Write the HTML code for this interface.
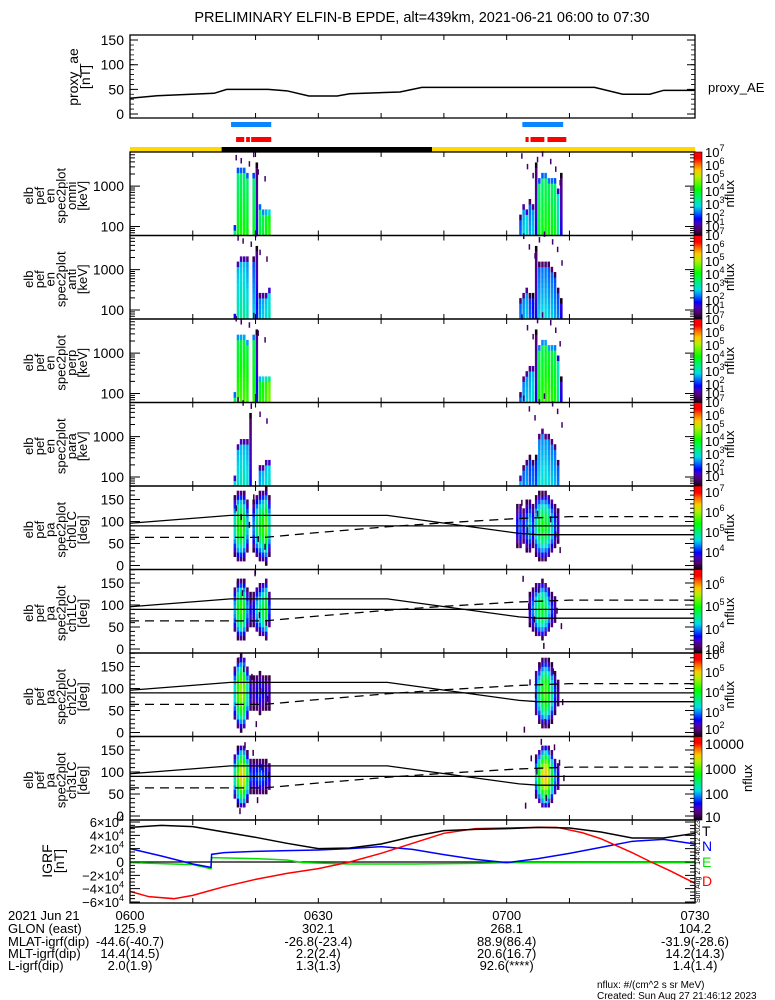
<!DOCTYPE html>
<html><head><meta charset="utf-8"><title>ELFIN-B EPDE</title>
<style>
html,body{margin:0;padding:0;background:#fff;}
svg{display:block;font-family:"Liberation Sans",sans-serif;}
</style></head>
<body>
<svg id="chart" xmlns="http://www.w3.org/2000/svg" width="775" height="1000" viewBox="0 0 775 1000">
<defs>
<linearGradient id="cmap" x1="0" y1="1" x2="0" y2="0">
<stop offset="0" stop-color="rgb(20,0,20)"/><stop offset="0.08" stop-color="rgb(80,0,110)"/>
<stop offset="0.15" stop-color="rgb(70,0,200)"/><stop offset="0.2" stop-color="rgb(0,0,255)"/>
<stop offset="0.28" stop-color="rgb(0,120,255)"/><stop offset="0.35" stop-color="rgb(0,220,230)"/>
<stop offset="0.45" stop-color="rgb(0,240,120)"/><stop offset="0.55" stop-color="rgb(0,255,0)"/>
<stop offset="0.7" stop-color="rgb(180,240,0)"/><stop offset="0.78" stop-color="rgb(255,200,0)"/>
<stop offset="0.86" stop-color="rgb(255,100,0)"/><stop offset="0.92" stop-color="rgb(255,0,0)"/>
<stop offset="1" stop-color="rgb(255,0,0)"/>
</linearGradient>
</defs>
<text x="422" y="22" font-size="14.5" text-anchor="middle">PRELIMINARY ELFIN-B EPDE, alt=439km, 2021-06-21 06:00 to 07:30</text>
<text x="708" y="92" font-size="13">proxy_AE</text>
<g font-size="14">
<text x="702" y="836" fill="#000">T</text>
<text x="702" y="851" fill="#0000ff">N</text>
<text x="702" y="867" fill="#00e000">E</text>
<text x="702" y="886" fill="#ff0000">D</text>
</g>
<text transform="translate(700,903) rotate(-90)" font-size="7">Sun Aug 27 14:46:12 2023</text>
<g font-size="13">
<text x="8" y="920">2021 Jun 21</text>
<text x="8" y="933">GLON (east)</text>
<text x="8" y="946">MLAT-igrf(dip)</text>
<text x="8" y="958">MLT-igrf(dip)</text>
<text x="8" y="970">L-igrf(dip)</text>
</g>
<text x="597" y="988" font-size="10">nflux: #/(cm^2 s sr MeV)</text>
<text x="597" y="999" font-size="10">Created: Sun Aug 27 21:46:12 2023</text>
<g id="plot"></g>
</svg>
<script>
// ---------- data ----------
const aeTime = [0,4.3,13.4,15.4,22,25,28.5,33,35,43,46.5,74,78.5,82.8,85,90];
const aeValue = [32,37,42,50,50,47,36.5,36.5,41,44.6,54,54,40,40,48,48];
const aeTicks = [0,50,100,150];

const blueBarStart = [16.1,62.5];
const blueBarEnd = [22.5,69];
const redBarStart = [16.9,18.5,19.3,63.0,63.8,66.5];
const redBarEnd = [18.2,19.1,22.5,63.5,66.0,69.5];
const nightStart = 14.6;
const nightEnd = 48.1;

const energyTicks = [100,1000];
const energyBinCount = 16;

const e1Time = [16.5,17,17.5,18,18.5,19,19.5,20,20.5,21,21.5,22];
const e2Time = [62,62.5,63,63.5,64,64.5,65,65.5,66,66.5,67,67.5,68,68.5];

const omniLow1 = [3.5,4.3,4.4,4.4,4.3,0,4.2,2.0,4.0,4.1,4.3,4.5];
const omniCut1 = [100,2500,2500,2500,1800,0,2000,3000,300,250,250,200];
const omniLow2 = [2.5,3.0,3.2,2.8,3.0,2.0,4.2,4.3,4.4,4.4,4.3,4.2,3.5,2.0];
const omniCut2 = [150,300,200,400,300,3000,1500,1800,1800,1500,1500,1200,800,2000];

const antiLow1 = [3.2,3.4,3.5,3.5,3.3,0,3.0,2.2,2.8,3.0,3.1,3.3];
const antiCut1 = [80,1500,2000,2000,1800,0,1800,3000,200,200,250,300];
const antiLow2 = [2.6,2.8,3.0,2.5,2.2,2.0,3.0,3.1,3.1,3.0,3.0,2.8,2.6,2.0];
const antiCut2 = [150,200,300,200,250,3000,1200,1500,1500,1200,1000,800,300,150];

const perpLow1 = [3.8,4.6,4.7,4.7,4.6,0,4.5,2.2,4.3,4.5,4.7,5.0];
const perpCut1 = [100,2500,2500,2500,2000,0,2500,3000,250,250,250,250];
const perpLow2 = [2.5,2.8,3.0,3.0,3.2,2.0,4.4,4.5,4.6,4.6,4.5,4.4,3.6,2.0];
const perpCut2 = [100,200,300,400,400,3000,1500,1600,1600,1500,1500,1300,700,200];

const paraLow1 = [3.0,3.2,3.3,3.3,3.2,2.0,0,0,2.8,3.0,3.1,3.2];
const paraCut1 = [100,600,800,800,700,3000,0,0,150,180,200,200];
const paraLow2 = [2.8,2.6,2.8,2.5,2.6,2.4,3.1,3.2,3.2,3.1,3.0,2.9,2.6,0];
const paraCut2 = [100,150,200,300,250,300,1000,1200,1000,900,800,600,200,0];

const specklesMin = [16.8,17.6,18.9,19.6,20.3,21.4,62.3,63.2,64.1,64.8,65.6,66.9,67.7,68.4];
const specklesKeV = [5000,4200,3500,6000,2200,1500,5500,3000,1800,4500,6200,4000,2600,1200];

const paTicks = [0,50,100,150];
const pa1Time = [16.5,17,17.5,18,18.5,19,19.5,20,20.5,21,21.5,22];
const pa2Time = [61.5,62,62.5,63,63.5,64,64.5,65,65.5,66,66.5,67,67.5,68];
const ch0Peak1 = [5.0,5.6,5.7,5.5,4.8,0,4.6,5.2,5.5,5.7,5.9,5.0];
const ch0Peak2 = [4.3,4.5,4.2,4.6,4.8,4.4,5.0,5.4,5.6,5.5,5.3,4.9,4.4,4.1];
const ch1Peak1 = [4.3,5.0,5.2,5.0,4.2,3.8,3.9,4.4,4.6,4.9,5.1,4.0];
const ch1Peak2 = [0,0,0,0,3.8,4.2,4.6,4.9,5.0,4.8,4.4,4.0,3.7,0];
const ch2Peak1 = [3.5,4.6,5.0,4.8,3.6,2.6,2.4,2.6,2.8,2.6,2.5,2.4];
const ch2Peak2 = [0,0,0,0,0,0,3.0,3.8,4.4,4.6,4.3,3.7,2.8,2.3];
const ch3Peak1 = [2.2,3.0,3.5,3.4,2.5,1.6,1.5,1.6,1.7,1.6,1.5,1.4];
const ch3Peak2 = [0,0,0,0,0,0,2.0,2.8,3.4,3.6,3.3,2.6,1.8,1.4];

const lcTime = [0,16,41,62,65,90];
const lcSolid = [96,114,114,73,70,70];
const dashTime = [0,21.5,30,41,50,62,70,90];
const dashValue = [64,64,75,88,97,107,111,111];

const igrfTicks = [-6,-4,-2,0,2,4,6];
const tTime = [0,5,10,15,20,25,30,35,40,45,50,55,60,65,70,75,80,85,90];
const tValue = [52,55,53,45,37,28,20,21,27,38,47,49,50,52,51,45,36,36,43];
const nTime = [0,5,10,12.9,13,15,20,25,30,35,40,45,50,55,60,65,70,75,80,85,90];
const nValue = [20,9,-3,-8,11.5,14,16,17,18,20,23,19,11,4,-1,5,13,22,31,34,27];
const eTime = [0,10,12.9,13,20,25,27.5,35,45,55,60,70,80,90];
const eValue = [-1,-4,-10,6.5,5,3,-1,-3,-3,-2,-1,-1,-1,-1];
const dTime = [0,3,7,10,15,20,25,30,35,40,45,50,55,60,65,68,72,75,80,83,86,90];
const dValue = [-44,-52,-55,-50,-37,-26,-17,-10,0,13,28,43,50,51,52,52,44,35,14,0,-13,-32];

const timeLabels = ['0600','0630','0700','0730'];
const glonValues = ['125.9','302.1','268.1','104.2'];
const mlatValues = ['-44.6(-40.7)','-26.8(-23.4)','88.9(86.4)','-31.9(-28.6)'];
const mltValues = ['14.4(14.5)','2.2(2.4)','20.6(16.7)','14.2(14.3)'];
const lValues = ['2.0(1.9)','1.3(1.3)','92.6(****)','1.4(1.4)'];

// ---------- helpers ----------
const NS='http://www.w3.org/2000/svg';
const root=document.getElementById('plot');
const X0=130,X1=695,PH=83.5;
function xT(t){return X0+t/90*(X1-X0);}
function yAE(v){return 114-v*0.493;}
function yE(top,k){return top+PH-(Math.log10(k)-Math.log10(60))/(Math.log10(7000)-Math.log10(60))*PH;}
function yPA(top,d){return top+PH-4-d*0.44;}
function yG(k){return 862-k*0.667;}
function mk(tag,attrs,parent){const el=document.createElementNS(NS,tag);for(const k in attrs)el.setAttribute(k,attrs[k]);(parent||root).appendChild(el);return el;}
const stops=[[0,20,0,20],[0.08,80,0,110],[0.15,70,0,200],[0.2,0,0,255],[0.28,0,120,255],[0.35,0,220,230],[0.45,0,240,120],[0.55,0,255,0],[0.7,180,240,0],[0.78,255,200,0],[0.86,255,100,0],[0.92,255,0,0],[1,255,0,0]];
function cmap(t){t=Math.max(0,Math.min(1,t));for(let i=1;i<stops.length;i++){if(t<=stops[i][0]){const a=stops[i-1],b=stops[i],f=(t-a[0])/(b[0]-a[0]);return 'rgb('+[1,2,3].map(j=>Math.round(a[j]+f*(b[j]-a[j]))).join(',')+')';}}return 'rgb(255,0,0)';}

const panelTops=[152,235.5,319,402.5,486,569.5,653,736.5];

function frame(top,h,name){
  const r=mk('rect',{x:X0,y:top,width:X1-X0,height:h,fill:'none',stroke:'#000','stroke-width':1.3});
  
  
  for(let t=10;t<90;t+=10){
    const tk=mk('path',{d:'M'+xT(t)+' '+(top+h)+'v-5M'+xT(t)+' '+top+'v5',stroke:'#000','stroke-width':1});
    
    
  }
}
function ylabel(lines,cx,cy,x0,dx,fs,name){
  const g=mk('g',{});
  
  
  lines.forEach((s,i)=>{
    const t=mk('text',{transform:'translate('+(x0+i*dx)+','+cy+') rotate(-90)','font-size':fs,'text-anchor':'middle'},g);
    t.textContent=s;
    
    
  });
}
function tickLabel(txt,x,y,anchor,fs,sup){
  const t=mk('text',{x:x,y:y,'font-size':fs||14,'text-anchor':anchor||'end'});
  
  
  t.textContent=txt;
  if(sup){const s=mk('tspan',{dy:-6,'font-size':9},t);s.textContent=sup;}
  return t;
}

// ---------- proxy AE panel ----------
frame(35,83,'proxy-ae-panel');
aeTicks.forEach(v=>{
  const tk=mk('path',{d:'M'+X0+' '+yAE(v)+'h8M'+X1+' '+yAE(v)+'h-8',stroke:'#000'});
  
  
  tickLabel(String(v),124,yAE(v)+5);
});
for(let v=10;v<160;v+=10){
  const tk=mk('path',{d:'M'+X0+' '+yAE(v)+'h4M'+X1+' '+yAE(v)+'h-4',stroke:'#000','stroke-width':0.8});
  
  
}
ylabel(['proxy_ae','[nT]'],0,77,78,12,14,'proxy-ae-axis-title');
const aeLine=mk('polyline',{points:aeTime.map((t,i)=>xT(t)+','+yAE(aeValue[i])).join(' '),fill:'none',stroke:'#000','stroke-width':1.5});



// ---------- bars ----------
blueBarStart.forEach((s,i)=>{
  const r=mk('rect',{x:xT(s),y:122,width:xT(blueBarEnd[i])-xT(s),height:5,fill:'#0a84ff'});
  
  
});
redBarStart.forEach((s,i)=>{
  const r=mk('rect',{x:xT(s),y:137,width:xT(redBarEnd[i])-xT(s),height:5,fill:'#ff0000'});
  
  
});
const sunBar=mk('rect',{x:X0,y:147,width:X1-X0,height:5,fill:'#ffd800'});


const nightBar=mk('rect',{x:xT(nightStart),y:147,width:xT(nightEnd)-xT(nightStart),height:5,fill:'#000'});



// ---------- energy spectrograms ----------
const eLo=Math.log10(60),eHi=Math.log10(7000),eStep=(eHi-eLo)/energyBinCount;
const colW=xT(0.5)-xT(0);
function drawEnergy(top,times,lows,cuts,name){
  times.forEach((t,i)=>{
    if(!lows[i])return;
    for(let b=0;b<energyBinCount;b++){
      const ek=Math.pow(10,eLo+b*eStep);
      if(ek>cuts[i])break;
      const nxt=Math.pow(10,eLo+(b+1)*eStep);
      let v=lows[i]-0.45*(Math.log10(ek)-eLo);
      if(nxt>cuts[i])v-=1.2;
      const y2=yE(top,ek),y1=yE(top,nxt);
      const c=mk('rect',{x:xT(t),y:y1,width:colW-0.6,height:y2-y1+0.3,fill:cmap((v-0.8)/6.4)});
      
      
    }
  });
}
const eNames=['omni','anti','perp','para'];
const eData=[[omniLow1,omniCut1,omniLow2,omniCut2],[antiLow1,antiCut1,antiLow2,antiCut2],[perpLow1,perpCut1,perpLow2,perpCut2],[paraLow1,paraCut1,paraLow2,paraCut2]];
eNames.forEach((nm,p)=>{
  const top=panelTops[p];
  drawEnergy(top,e1Time,eData[p][0],eData[p][1],nm);
  drawEnergy(top,e2Time,eData[p][2],eData[p][3],nm);
  specklesMin.forEach((m,i)=>{
    const s=mk('rect',{x:xT(m+(p%2)*0.3),y:yE(top,specklesKeV[i]*(1+0.2*p))-3,width:1.5,height:5.5,fill:'rgb(70,0,110)'});
    
    
  });
  frame(top,PH,nm+'-energy-panel');
  for(let d=100;d<=7000;d*=10){for(let k=1;k<10;k++){const v=d*k/ (d===100?1:1);const e=(d/100)*100*k/1;}}
  [60,70,80,90,100,200,300,400,500,600,700,800,900,1000,2000,3000,4000,5000,6000,7000].forEach(k=>{
    const len=(k===100||k===1000)?10:5;
    const tk=mk('path',{d:'M'+X0+' '+yE(top,k)+'h'+len+'M'+X1+' '+yE(top,k)+'h-'+len,stroke:'#000','stroke-width':1});
    
    
  });
  energyTicks.forEach(k=>tickLabel(String(k),124,yE(top,k)+5));
  ylabel(['elb','pef','en','spec2plot',nm,'[keV]'],0,top+PH/2+2,33,10.8,13,nm+'-axis-title');
});

// ---------- pitch-angle spectrograms ----------
const paNames=['ch0LC','ch1LC','ch2LC','ch3LC'];
const paPeaks=[[ch0Peak1,ch0Peak2],[ch1Peak1,ch1Peak2],[ch2Peak1,ch2Peak2],[ch3Peak1,ch3Peak2]];
const paLo=[3.5,3.2,1.7,0.7], paHi=[7.3,6.6,6.5,4.4], paWidth=[80,72,68,62];
function drawPA(top,times,peaks,p){
  times.forEach((t,i)=>{
    if(!peaks[i])return;
    for(let b=0;b<18;b++){
      const pa=b*10+5;
      const v=peaks[i]-2*Math.pow((pa-90)/paWidth[p],2);
      if(v<paLo[p]+0.1)continue;
      const c=mk('rect',{x:xT(t),y:yPA(top,b*10+10),width:colW-0.6,height:4.7,fill:cmap((v-paLo[p])/(paHi[p]-paLo[p]))});
      
      
    }
  });
}
paNames.forEach((nm,q)=>{
  const top=panelTops[4+q];
  drawPA(top,pa1Time,paPeaks[q][0],q);
  drawPA(top,pa2Time,paPeaks[q][1],q);
  specklesMin.forEach((m,i)=>{
    const s=mk('rect',{x:xT(m+0.2*q),y:yPA(top,(specklesKeV[i]/40+q*17)%170+5)-3,width:1.5,height:6,fill:'rgb(60,0,80)'});
    
    
  });
  const sl=mk('polyline',{points:lcTime.map((t,i)=>xT(t)+','+yPA(top,lcSolid[i])).join(' '),fill:'none',stroke:'#000','stroke-width':1.3});
  
  
  const dl=mk('polyline',{points:dashTime.map((t,i)=>xT(t)+','+yPA(top,dashValue[i])).join(' '),fill:'none',stroke:'#000','stroke-width':1.3,'stroke-dasharray':'9,6'});
  
  
  const hl=mk('line',{x1:X0,x2:X1,y1:yPA(top,90),y2:yPA(top,90),stroke:'#000','stroke-width':1.3});
  
  
  frame(top,PH,nm+'-pa-panel');
  for(let d=0;d<=180;d+=10){
    const len=(d%50===0)?10:5;
    const tk=mk('path',{d:'M'+X0+' '+yPA(top,d)+'h'+len+'M'+X1+' '+yPA(top,d)+'h-'+len,stroke:'#000','stroke-width':1});
    
    
  }
  paTicks.forEach(d=>tickLabel(String(d),124,yPA(top,d)+5));
  ylabel(['elb','pef','pa','spec2plot',nm,'[deg]'],0,top+PH/2+2,33,10.8,13,nm+'-axis-title');
});

// ---------- colorbars ----------
const cbLabels=[
 [[7,157],[6,170],[5,183],[4,196],[3,209],[2,222],[1,231]],
 [[7,240],[6,253],[5,266],[4,279],[3,292],[2,305],[1,314]],
 [[7,324],[6,337],[5,350],[4,363],[3,376],[2,389],[1,398]],
 [[7,407],[6,420],[5,433],[4,446],[3,459],[2,472],[1,481]],
 [[7,497],[6,517],[5,537],[4,557]],
 [[6,589],[5,611],[4,634],[3,654]],
 [[6,659],[5,677],[4,697],[3,717],[2,734]],
 [['10000'],['1000'],['100'],['10']]
];
const plainY=[749,774,799,822];
panelTops.forEach((top,p)=>{
  const cb=mk('rect',{x:694,y:top,width:8,height:PH,fill:'url(#cmap)',stroke:'#000','stroke-width':0.6});
  
  
  cbLabels[p].forEach((l,i)=>{
    if(p===7)tickLabel(l[0],705,plainY[i],'start',14);
    else tickLabel('10',705,l[1],'start',13,String(l[0]));
  });
  const nf=mk('text',{transform:'translate('+(p===7?752:734)+','+(top+PH/2)+') rotate(-90)','font-size':13,'text-anchor':'middle'});
  nf.textContent='nflux';
  
  
});

// ---------- IGRF panel ----------
const z=mk('line',{x1:X0,x2:X1,y1:yG(0),y2:yG(0),stroke:'#000','stroke-width':1.3});


function series(times,vals,color,name){
  const l=mk('polyline',{points:times.map((t,i)=>xT(t)+','+yG(vals[i])).join(' '),fill:'none',stroke:color,'stroke-width':1.5});
  
  
}
series(eTime,eValue,'#00e000','igrf-e-line');
series(nTime,nValue,'#0000ff','igrf-n-line');
series(dTime,dValue,'#ff0000','igrf-d-line');
series(tTime,tValue,'#000000','igrf-t-line');
frame(820,83,'igrf-panel');
for(let k=-60;k<=60;k+=5){
  const len=(k%20===0)?10:5;
  const tk=mk('path',{d:'M'+X0+' '+yG(k)+'h'+len+'M'+X1+' '+yG(k)+'h-'+len,stroke:'#000','stroke-width':1});
  
  
}
igrfTicks.forEach(v=>{
  if(v===0){tickLabel('0',124,yG(0)+5);return;}
  const t=tickLabel((v<0?'\u2212':'')+Math.abs(v)+'\u00d710',124,yG(v*10)+5,'end',13,'4');
});
ylabel(['IGRF','[nT]'],0,861,52,12,14,'igrf-axis-title');

// ---------- orbit table ----------
const rows=[timeLabels,glonValues,mlatValues,mltValues,lValues];
const rowY=[920,933,946,958,970];
rows.forEach((arr,r)=>{
  arr.forEach((s,i)=>{
    const x=xT(i*30);
    const t=mk('text',{x:x,y:rowY[r],'font-size':13,'text-anchor':'middle'});
    t.textContent=s;
    
    
  });
});
</script>
</body></html>
